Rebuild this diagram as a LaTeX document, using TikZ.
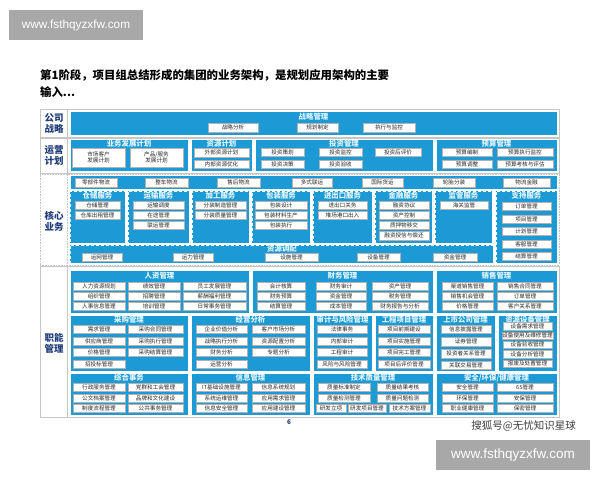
\documentclass[tikz,border=0pt]{standalone}
\usepackage{fontspec}
\setmainfont{Noto Sans CJK SC}
\newfontfamily\latinsans{Liberation Sans}
\definecolor{bl}{HTML}{1B9AD6}
\definecolor{navy}{HTML}{1F3D7A}
\definecolor{ttl}{HTML}{E3F6FF}
\definecolor{wmgray}{HTML}{A8A8A8}
\tikzset{
  itm/.style={draw=gray!60, line width=0.4pt, fill=white, inner sep=0pt, align=center,
    font=\fontsize{5.6}{6.2}\selectfont, text=black!85},
  blk/.style={fill=bl, draw=white, line width=0.8pt, inner sep=0pt},
  blkd/.style={fill=bl, draw=white, line width=0.7pt, densely dashed, inner sep=0pt},
  ttlf/.style={font=\bfseries\fontsize{7.4}{8}\selectfont, text=ttl, inner sep=0pt},
  rowf/.style={draw=gray!45, line width=0.6pt, fill=white},
  rowfd/.style={draw=gray!45, line width=0.6pt, fill=white, densely dotted},
  lab/.style={font=\bfseries\fontsize{9.5}{11}\selectfont, text=navy, align=center, inner sep=0pt},
}
\newcommand{\bx}[6]{\node[itm,minimum width={(#4)-(#2)},minimum height={(#5)-(#3)}] (#1) at ({((#2)+(#4))/2},{((#3)+(#5))/2}) {#6};}
\newcommand{\bk}[8][blk]{%
  \node[#1,minimum width={(#5)-(#3)},minimum height={(#6)-(#4)}] (#2) at ({((#3)+(#5))/2},{((#4)+(#6))/2}) {};%
  \node[ttlf] (#2t) at ({((#3)+(#5))/2},#8) {#7};}
\begin{document}
\begin{tikzpicture}[x=1pt,y=-1pt]
\useasboundingbox (0,0) rectangle (600,480);
\fill[white] (0,0) rectangle (600,480);
% watermarks
\node[fill=wmgray, minimum width=134, minimum height=30, inner sep=0pt, text=white,
  font=\latinsans\fontsize{11.8}{13}\selectfont] (wm1) at (76,25) {www.fsthqyzxfw.com};
\node[fill=wmgray, minimum width=154, minimum height=30, inner sep=0pt, text=white,
  font=\latinsans\fontsize{13.5}{15}\selectfont] (wm2) at (513,455) {www.fsthqyzxfw.com};
\node[anchor=east, font=\fontsize{10.5}{12}\selectfont, text=black!75, inner sep=0pt] (wm3) at (576,426) {搜狐号@无忧知识星球};
% title
\node[anchor=west, font=\bfseries\fontsize{11.4}{13}\selectfont, inner sep=0pt] (title1) at (40,75) {第1阶段，项目组总结形成的集团的业务架构，是规划应用架构的主要};
\node[anchor=west, font=\bfseries\fontsize{11.4}{13}\selectfont, inner sep=0pt] (title2) at (40,92) {输入...};
% row frames
\node[rowf, minimum width=519, minimum height=28, inner sep=0pt] (row1) at (299.5,123) {};
\node[rowf, minimum width=519, minimum height=35, inner sep=0pt] (row2) at (299.5,155.5) {};
\node[rowfd, minimum width=519, minimum height=91, inner sep=0pt] (row3) at (299.5,219.5) {};
\node[rowf, minimum width=519, minimum height=151, inner sep=0pt] (row4) at (299.5,341.5) {};
\draw[gray!45, line width=0.6pt] (row1.north west) ++(28,0) coordinate (l1a) -- (l1a |- row1.south);
\draw[gray!45, line width=0.6pt] (row2.north west) ++(28,0) coordinate (l2a) -- (l2a |- row2.south);
\draw[gray!45, line width=0.6pt, densely dotted] (row3.north west) ++(28,0) coordinate (l3a) -- (l3a |- row3.south);
\draw[gray!45, line width=0.6pt] (row4.north west) ++(28,0) coordinate (l4a) -- (l4a |- row4.south);
\node[lab] (lab1) at (54,123) {公司\\战略};
\node[lab] (lab2) at (54,155.5) {运营\\计划};
\node[lab] (lab3) at (54,221) {核心\\业务};
\node[lab] (lab4) at (54,343) {职能\\管理};
% ---------- row 1
\bk{r1}{70}{111}{557}{135}{战略管理}{116.5}
\bx{s1}{208}{123}{258}{132}{战略分析}
\bx{s2}{297}{123}{338}{132}{规划制定}
\bx{s3}{363}{123}{415}{132}{执行与监控}
% ---------- row 2
\bk{p1}{70}{139}{188}{171}{业务发展计划}{143.5}
\bx{p1a}{72}{148}{125}{167}{市场客户\\发展计划}
\bx{p1b}{130}{148}{183}{167}{产品/服务\\发展计划}
\bk{p2}{191}{139}{252}{171}{资源计划}{143.5}
\bx{p2a}{194}{148}{249}{157}{外部资源计划}
\bx{p2b}{194}{160}{249}{168}{内部资源优化}
\bk{p3}{255}{139}{433}{171}{投资管理}{143.5}
\bx{p3a}{261}{148}{304}{156}{投资策划}
\bx{p3b}{319}{148}{362}{156}{投资监控}
\bx{p3c}{375}{148}{421}{156}{投资后评价}
\bx{p3d}{261}{160}{304}{168}{投资决策}
\bx{p3e}{319}{160}{362}{168}{投资验收}
\bk{p4}{436}{139}{557}{171}{预算管理}{143.5}
\bx{p4a}{442}{148}{492}{156}{预算编制}
\bx{p4b}{497}{148}{553}{156}{预算执行监控}
\bx{p4c}{442}{160}{492}{168}{预算调整}
\bx{p4d}{497}{160}{553}{168}{预算考核与评估}
% ---------- row 3
\bk{c0}{70}{175}{557}{189}{}{182}
\bx{c0a}{75}{178}{117}{187}{零部件物流}
\bx{c0b}{145}{178}{188}{187}{整车物流}
\bx{c0c}{217}{178}{260}{187}{售后物流}
\bx{c0d}{292}{178}{332}{187}{多式联运}
\bx{c0e}{362}{178}{403}{187}{国际货运}
\bx{c0f}{433}{178}{475}{187}{轮胎分装}
\bx{c0g}{503}{178}{550}{187}{物流金融}
\bk[blkd]{c1}{70}{191}{125}{243}{仓储服务}{196}
\bx{c1a}{75}{201}{120}{209}{仓储管理}
\bx{c1b}{75}{211}{120}{219}{仓库出租管理}
\bk[blkd]{c2}{128}{191}{189}{243}{运输服务}{196}
\bx{c2a}{133}{201}{184}{209}{运输调度}
\bx{c2b}{133}{211}{184}{219}{在途管理}
\bx{c2c}{133}{221}{184}{229}{联运管理}
\bk[blkd]{c3}{192}{191}{249}{243}{加工服务}{196}
\bx{c3a}{195}{201}{246}{209}{分装制造管理}
\bx{c3b}{195}{211}{246}{219}{分装质量管理}
\bk[blkd]{c4}{252}{191}{310}{243}{包装服务}{196}
\bx{c4a}{255}{201}{307}{209}{包装设计}
\bx{c4b}{255}{211}{307}{219}{包装材料生产}
\bx{c4c}{255}{221}{307}{229}{包装执行}
\bk[blkd]{c5}{313}{191}{372}{243}{进出口服务}{196}
\bx{c5a}{318}{201}{367}{209}{进出口关务}
\bx{c5b}{318}{211}{367}{219}{堆场港口出入}
\bk[blkd]{c6}{375}{191}{432}{243}{金融服务}{196}
\bx{c6a}{379}{201}{429}{209}{融资协议}
\bx{c6b}{379}{211}{429}{219}{资产控制}
\bx{c6c}{379}{221}{429}{229}{质押物移交}
\bx{c6d}{379}{231}{429}{240}{融资授信与偿还}
\bk[blkd]{c7}{435}{191}{492}{243}{监管服务}{196}
\bx{c7a}{440}{201}{488}{209}{海关监管}
\bk[blkd]{c8}{496}{191}{557}{263}{支持服务}{196}
\bx{c8a}{502}{202}{551}{210}{订单管理}
\bx{c8b}{502}{215}{551}{223}{项目管理}
\bx{c8c}{502}{227}{551}{235}{计划管理}
\bx{c8d}{502}{240}{551}{248}{客服管理}
\bx{c8e}{502}{252}{551}{260}{结算管理}
\bk[blkd]{c9}{70}{245}{493}{263}{}{249}
\node[ttlf] (c9t2) at (282,249) {资源调配};
\bx{c9a}{82}{253.5}{122}{261.5}{运网管理}
\bx{c9b}{173}{253.5}{213}{261.5}{运力管理}
\bx{c9c}{265}{253.5}{318}{261.5}{设施管理}
\bx{c9d}{357}{253.5}{400}{261.5}{设备管理}
\bx{c9e}{433}{253.5}{477}{261.5}{资金管理}
% ---------- row 4 A
\bk{h1}{70}{270}{249}{313}{人资管理}{275.5}
\bx{h1a}{73}{282}{125}{290}{人力资源规划}
\bx{h1b}{128}{282}{180}{290}{绩效管理}
\bx{h1c}{183}{282}{246}{290}{员工发展管理}
\bx{h1d}{73}{292}{125}{300}{组织管理}
\bx{h1e}{128}{292}{180}{300}{招聘管理}
\bx{h1f}{183}{292}{246}{300}{薪酬福利管理}
\bx{h1g}{73}{302}{125}{310}{人事信息管理}
\bx{h1h}{128}{302}{180}{310}{培训管理}
\bx{h1i}{183}{302}{246}{310}{日常事务管理}
\bk{h2}{252}{270}{433}{313}{财务管理}{275.5}
\bx{h2a}{257}{282}{305}{290}{会计核算}
\bx{h2b}{316}{282}{366}{290}{财务审计}
\bx{h2c}{372}{282}{428}{290}{资产管理}
\bx{h2d}{257}{292}{305}{300}{财务预算}
\bx{h2e}{316}{292}{366}{300}{资金管理}
\bx{h2f}{372}{292}{428}{300}{税务管理}
\bx{h2g}{257}{302}{305}{310}{结算管理}
\bx{h2h}{316}{302}{366}{310}{成本管理}
\bx{h2i}{372}{302}{428}{310}{财务报告与分析}
\bk{h3}{436}{270}{557}{313}{销售管理}{275.5}
\bx{h3a}{442}{282}{493}{290}{渠道销售管理}
\bx{h3b}{497}{282}{553}{290}{销售合同管理}
\bx{h3c}{442}{292}{493}{300}{销售机会管理}
\bx{h3d}{497}{292}{553}{300}{订单管理}
\bx{h3e}{442}{302}{493}{310}{价格管理}
\bx{h3f}{497}{302}{553}{310}{客户关系管理}
% ---------- row 4 B
\bk{b1}{70}{315}{188}{371}{采购管理}{319.5}
\bx{b1a}{73}{325}{125}{333}{需求管理}
\bx{b1b}{128}{325}{183}{333}{采购合同管理}
\bx{b1c}{73}{337}{125}{345}{供应商管理}
\bx{b1d}{128}{337}{183}{345}{采购执行管理}
\bx{b1e}{73}{348}{125}{356}{价格管理}
\bx{b1f}{128}{348}{183}{356}{采购结算管理}
\bx{b1g}{73}{360}{125}{368}{招投标管理}
\bk{b2}{191}{315}{310}{371}{经营分析}{319.5}
\bx{b2a}{196}{325}{247}{333}{企业价值分析}
\bx{b2b}{252}{325}{305}{333}{客户市场分析}
\bx{b2c}{196}{337}{247}{345}{战略执行分析}
\bx{b2d}{252}{337}{305}{345}{资源配置分析}
\bx{b2e}{196}{348}{247}{356}{财务分析}
\bx{b2f}{252}{348}{305}{356}{专题分析}
\bx{b2g}{196}{360}{247}{368}{运营分析}
\bk{b3}{313}{315}{372}{371}{审计与风险管理}{319.5}
\bx{b3a}{317}{325}{367}{333}{法律事务}
\bx{b3b}{317}{337}{367}{345}{内部审计}
\bx{b3c}{317}{348}{367}{356}{工程审计}
\bx{b3d}{317}{360}{367}{368}{风险与风险管理}
\bk{b4}{375}{315}{433}{371}{工程项目管理}{319.5}
\bx{b4a}{378}{325}{430}{333}{项目前期建设}
\bx{b4b}{378}{337}{430}{345}{项目实施管理}
\bx{b4c}{378}{348}{430}{356}{项目完工管理}
\bx{b4d}{378}{360}{430}{368}{项目后评价管理}
\bk{b5}{436}{315}{495}{371}{上市公司管理}{319.5}
\bx{b5a}{441}{325}{491}{333}{信息披露管理}
\bx{b5b}{441}{337}{491}{346}{证券管理}
\bx{b5c}{441}{349}{491}{358}{投资者关系管理}
\bx{b5d}{441}{361}{491}{369}{关联交易管理}
\bk{b6}{498}{315}{557}{371}{资源设备管理}{319.5}
\bx{b6a}{503}{322.5}{552}{330}{设备需求管理}
\bx{b6b}{503}{332}{552}{339}{设备使用及维修管理}
\bx{b6c}{503}{341}{552}{348.5}{设备验收管理}
\bx{b6d}{503}{350.5}{552}{358}{设备分析管理}
\bx{b6e}{503}{360}{552}{367.5}{报废及处置管理}
% ---------- row 4 C
\bk{g1}{70}{373}{188}{415}{综合事务}{377.5}
\bx{g1a}{73}{383}{125}{391}{行政服务管理}
\bx{g1b}{128}{383}{183}{391}{党群和工会管理}
\bx{g1c}{73}{394}{125}{402}{公文档案管理}
\bx{g1d}{128}{394}{183}{402}{品牌和文化建设}
\bx{g1e}{73}{404}{125}{412}{制度流程管理}
\bx{g1f}{128}{404}{183}{412}{公共事务管理}
\bk{g2}{191}{373}{310}{415}{信息管理}{377.5}
\bx{g2a}{196}{383}{247}{391}{IT基础设施管理}
\bx{g2b}{252}{383}{305}{391}{信息系统规划}
\bx{g2c}{196}{394}{247}{402}{系统运维管理}
\bx{g2d}{252}{394}{305}{402}{应用需求管理}
\bx{g2e}{196}{404}{247}{412}{信息安全管理}
\bx{g2f}{252}{404}{305}{412}{应用建设管理}
\bk{g3}{313}{373}{433}{415}{技术质量管理}{377.5}
\bx{g3a}{318}{383}{370}{391}{质量标准制定}
\bx{g3b}{377}{383}{428}{391}{质量结果考核}
\bx{g3c}{318}{394}{370}{402}{质量检测管理}
\bx{g3d}{377}{394}{428}{402}{质量问题检测}
\bx{g3e}{316}{404}{346}{412}{研发立项}
\bx{g3f}{348}{404}{386}{412}{研发项目管理}
\bx{g3g}{389}{404}{430}{412}{技术方案管理}
\bk{g4}{436}{373}{557}{415}{安全/环保/健康管理}{377.5}
\bx{g4a}{442}{383}{493}{391}{安全管理}
\bx{g4b}{497}{383}{553}{391}{6S管理}
\bx{g4c}{442}{394}{493}{402}{环保管理}
\bx{g4d}{497}{394}{553}{402}{安保管理}
\bx{g4e}{442}{404}{493}{412}{职业健康管理}
\bx{g4f}{497}{404}{553}{412}{保密管理}
% page number
\node[font=\bfseries\fontsize{6.5}{7}\selectfont, text=navy, inner sep=0pt] (pgno) at (289,422.5) {6};
\end{tikzpicture}
\end{document}
